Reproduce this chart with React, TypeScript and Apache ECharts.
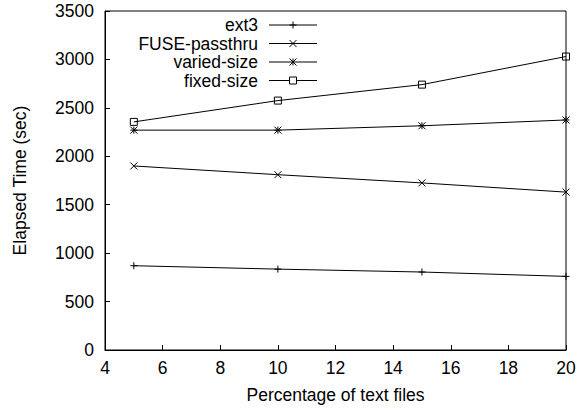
import React, { useEffect, useRef } from "react";
import * as echarts from "echarts";

const xValues = [5, 10, 15, 20];
const ext3 = [870, 835, 805, 760];
const fusePassthru = [1900, 1810, 1725, 1630];
const variedSize = [2270, 2270, 2315, 2375];
const fixedSize = [2355, 2575, 2740, 3030];
const seriesNames = ["ext3", "FUSE-passthru", "varied-size", "fixed-size"];

const PLUS = "path://M5,0L5,10M0,5L10,5";
const CROSS = "path://M0,0L10,10M10,0L0,10";
const STAR = "path://M0,0L10,10M10,0L0,10M5,0L5,10M0,5L10,5";
const SQUARE = "path://M0,0L10,0L10,10L0,10Z";

const FONT = "'Liberation Sans', Arial, sans-serif";
const FS = 17.5;

export default function App() {
  const ref = useRef<HTMLDivElement>(null);
  useEffect(() => {
    if (!ref.current) return;
    const chart = echarts.init(ref.current, null, { renderer: "svg" });
    const symbols = [PLUS, CROSS, STAR, SQUARE];
    const datasets = [ext3, fusePassthru, variedSize, fixedSize];
    const series = datasets.map((d, i) => ({
      name: seriesNames[i],
      type: "line",
      data: d.map((v, j) => [xValues[j], v]),
      symbol: symbols[i],
      symbolSize: 7,
      showAllSymbol: true,
      lineStyle: { color: "#000", width: 1 },
      itemStyle: { color: "rgba(0,0,0,0)", borderColor: "#000", borderWidth: 1 },
      emphasis: { disabled: true },
    }));

    const rowsY = [25, 43.5, 62, 80.5];
    const textRight = 258;
    const lx1 = 269;
    const lx2 = 317;
    const mx = (lx1 + lx2) / 2;
    const s = 3.5;
    const black = { stroke: "#000", lineWidth: 1 };
    const legendEls: any[] = [];
    rowsY.forEach((y, i) => {
      legendEls.push({
        type: "text",
        x: textRight,
        y,
        style: {
          text: seriesNames[i],
          font: `${FS}px ${FONT}`,
          fill: "#000",
          textAlign: "right",
          textVerticalAlign: "middle",
        },
      });
      legendEls.push({ type: "line", shape: { x1: lx1, y1: y, x2: lx2, y2: y }, style: black });
      if (i === 0 || i === 2) {
        legendEls.push({ type: "line", shape: { x1: mx, y1: y - s, x2: mx, y2: y + s }, style: black });
      }
      if (i === 1 || i === 2) {
        legendEls.push({ type: "line", shape: { x1: mx - s, y1: y - s, x2: mx + s, y2: y + s }, style: black });
        legendEls.push({ type: "line", shape: { x1: mx - s, y1: y + s, x2: mx + s, y2: y - s }, style: black });
      }
      if (i === 0) {
        legendEls.push({ type: "line", shape: { x1: mx - s, y1: y, x2: mx + s, y2: y }, style: black });
      }
      if (i === 3) {
        legendEls.push({ type: "rect", shape: { x: mx - s, y: y - s, width: 2 * s, height: 2 * s }, style: { ...black, fill: "#fff" } });
      }
    });

    chart.setOption({
      animation: false,
      textStyle: { fontFamily: FONT },
      grid: {
        left: 105,
        right: 19,
        top: 11,
        bottom: 59,
        show: true,
        borderColor: "#000",
        borderWidth: 1,
        backgroundColor: "transparent",
      },
      xAxis: {
        type: "value",
        min: 4,
        max: 20,
        interval: 2,
        name: "Percentage of text files",
        nameLocation: "middle",
        nameGap: 36,
        nameTextStyle: { fontSize: FS, color: "#000", fontFamily: FONT },
        axisLine: { show: true, lineStyle: { color: "#000", width: 1 } },
        axisTick: { show: true, inside: true, length: 5, lineStyle: { color: "#000" } },
        axisLabel: { fontSize: FS, color: "#000", margin: 9, fontFamily: FONT },
        splitLine: { show: false },
      },
      yAxis: {
        type: "value",
        min: 0,
        max: 3500,
        interval: 500,
        name: "Elapsed Time (sec)",
        nameLocation: "middle",
        nameGap: 76,
        nameRotate: 90,
        nameTextStyle: { fontSize: FS, color: "#000", fontFamily: FONT },
        axisLine: { show: true, lineStyle: { color: "#000", width: 1 } },
        axisTick: { show: true, inside: true, length: 5, lineStyle: { color: "#000" } },
        axisLabel: { fontSize: FS, color: "#000", margin: 11, fontFamily: FONT, formatter: (v: number) => String(v) },
        splitLine: { show: false },
      },
      series,
      graphic: legendEls,
    });
    return () => chart.dispose();
  }, []);
  return <div ref={ref} style={{ width: 585, height: 409, position: "absolute", left: 0, top: 0, background: "#fff" }} />;
}
